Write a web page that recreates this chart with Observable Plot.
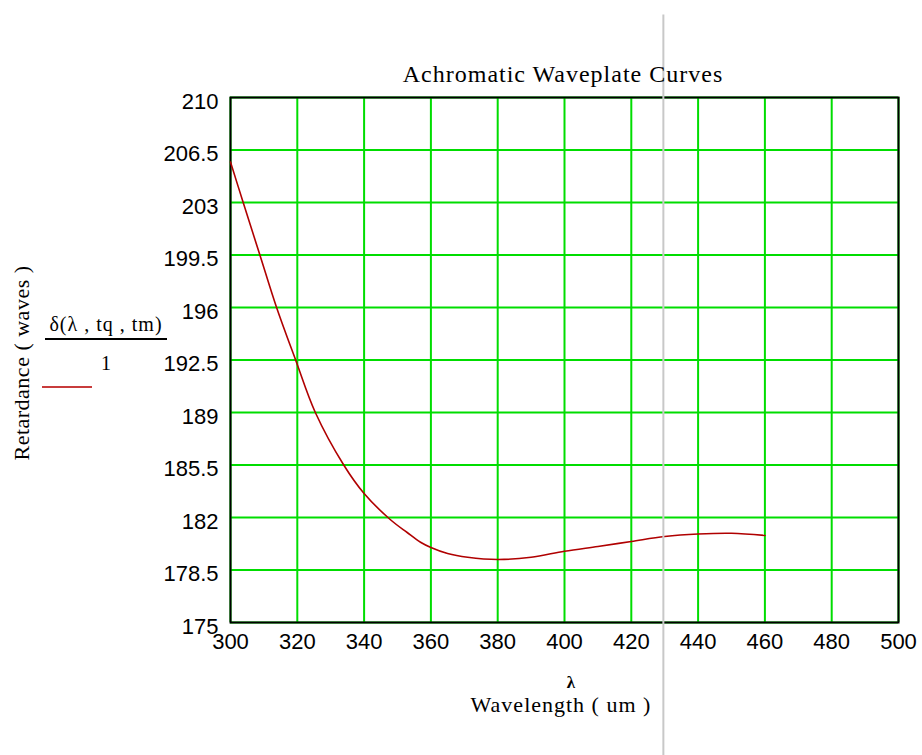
<!DOCTYPE html>
<html><head><meta charset="utf-8">
<script src="https://cdn.jsdelivr.net/npm/d3@7"></script>
<script src="https://cdn.jsdelivr.net/npm/@observablehq/plot@0.6"></script>
<style>body{margin:0;background:#fff}svg{display:block}</style>
</head><body><div id="chart"></div>
<script>
// Data
const wavelength = [300, 303.8, 308.8, 313.8, 319.5, 325.4, 333.9, 340, 347.9, 352.9, 356.9, 360, 365, 371, 380, 390, 400, 410, 420, 430, 440, 450, 460];
const retardance = [205.7, 203, 199.5, 196, 192.5, 189, 185.5, 183.6, 181.85, 181.0, 180.35, 180.0, 179.6, 179.35, 179.2, 179.35, 179.75, 180.07, 180.4, 180.73, 180.9, 180.95, 180.8];
const xTicks = [300, 320, 340, 360, 380, 400, 420, 440, 460, 480, 500];
const yTicks = [175, 178.5, 182, 185.5, 189, 192.5, 196, 199.5, 203, 206.5, 210];
const cursorX = [429.6];
const cursorYRange = [166.1, 215.5];

const title = "Achromatic Waveplate Curves";
const yLabel = "Retardance ( waves )";
const xSymbol = "λ";
const xLabel = "Wavelength ( um )";
const legendNumerator = "δ(λ , tq , tm)";
const legendDenominator = "1";

const data = wavelength.map((x, i) => ({x, y: retardance[i]}));
const green = "#00dd00";
const curveColor = "#b00000";
const fmt = d => String(d);

const plot = Plot.plot({
  width: 922, height: 755,
  marginLeft: 230, marginRight: 24, marginTop: 97, marginBottom: 133,
  x: {domain: [300, 500]},
  y: {domain: [175, 210]},
  style: {fontFamily: "'Liberation Sans', Arial, sans-serif", fontSize: "22px", background: "white", color: "black"},
  marks: [
    Plot.gridX(xTicks, {stroke: green, strokeOpacity: 1, strokeWidth: 2}),
    Plot.gridY(yTicks, {stroke: green, strokeOpacity: 1, strokeWidth: 2}),
    Plot.frame({stroke: "black", strokeWidth: 2}),
    Plot.axisX(xTicks, {tickSize: 0, tickPadding: 11, label: null, fontSize: 22, tickFormat: fmt}),
    Plot.axisY(yTicks, {tickSize: 0, tickPadding: 12, label: null, dy: 4, fontSize: 22, tickFormat: fmt}),
    Plot.line(data, {x: "x", y: "y", stroke: curveColor, strokeWidth: 1.6, curve: "catmull-rom"}),
    Plot.ruleX(cursorX, {y1: cursorYRange[0], y2: cursorYRange[1], stroke: "#c8c8c8", strokeWidth: 2})
  ]
});

const svg = d3.select(plot);
const serif = "'Liberation Serif', 'Times New Roman', serif";
svg.append("text").attr("x", 563).attr("y", 82).attr("text-anchor", "middle")
  .attr("font-family", serif).attr("font-size", 24).attr("letter-spacing", "1px").text(title);
svg.append("text").attr("transform", "translate(29,363) rotate(-90)").attr("text-anchor", "middle")
  .attr("font-family", serif).attr("font-size", 22).attr("letter-spacing", "0.5px").text(yLabel);
svg.append("text").attr("x", 106).attr("y", 331).attr("text-anchor", "middle")
  .attr("font-family", serif).attr("font-size", 20).attr("letter-spacing", "1px").text(legendNumerator);
svg.append("line").attr("x1", 45).attr("x2", 167).attr("y1", 339).attr("y2", 339).attr("stroke", "black").attr("stroke-width", 2);
svg.append("text").attr("x", 106).attr("y", 370).attr("text-anchor", "middle")
  .attr("font-family", serif).attr("font-size", 20).text(legendDenominator);
svg.append("line").attr("x1", 42).attr("x2", 92).attr("y1", 387).attr("y2", 387).attr("stroke", "#c83c3c").attr("stroke-width", 2);
svg.append("text").attr("x", 571).attr("y", 688).attr("text-anchor", "middle")
  .attr("font-family", serif).attr("font-size", 17).attr("font-weight", "bold").text(xSymbol);
svg.append("text").attr("x", 561).attr("y", 712).attr("text-anchor", "middle")
  .attr("font-family", serif).attr("font-size", 22).attr("letter-spacing", "1px").text(xLabel);

document.getElementById("chart").appendChild(plot);
</script>
</body></html>
